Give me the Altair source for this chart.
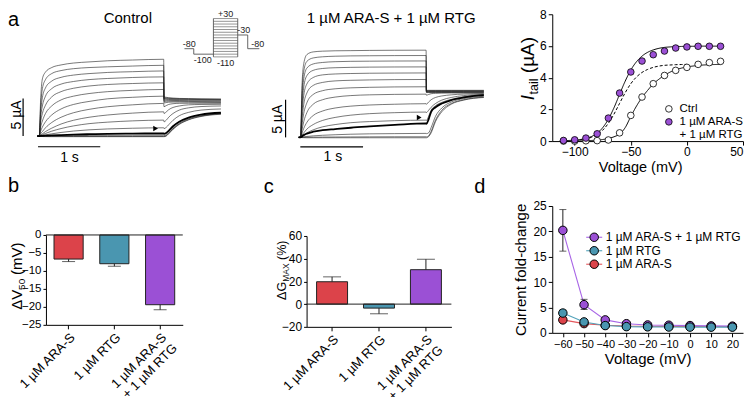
import altair as alt
import pandas as pd

FONT = "Liberation Sans"
PURPLE = "#9b50d5"
RED = "#dc434a"
TEAL = "#4a96b0"
LINE_PURPLE = "#a865e6"
LINE_TEAL = "#52a2ba"
LINE_RED = "#e4565b"
INK = "#1e1e1e"

# ---------------- panel a : current traces (time s, current uA) ----------------
pulse_t = [0.0, 0.02, 0.05, 0.1, 0.2, 0.35, 0.55, 0.8, 1.1, 1.5, 2.0]
tail_t = [2.005, 2.04, 2.08, 2.15, 2.25, 2.4, 2.6, 2.92]

ctrl_pulse = [
    [0, 4.5, 7.6, 8.5, 9.1, 9.45, 9.7, 9.85, 10.0, 10.1, 10.2],
    [0, 3.6, 6.3, 7.5, 8.3, 8.7, 8.95, 9.1, 9.2, 9.3, 9.4],
    [0, 2.9, 5.1, 6.4, 7.3, 7.8, 8.1, 8.3, 8.45, 8.55, 8.65],
    [0, 2.3, 4.0, 5.3, 6.3, 6.9, 7.25, 7.5, 7.65, 7.78, 7.86],
    [0, 1.7, 3.0, 4.1, 5.2, 5.9, 6.35, 6.65, 6.85, 6.98, 7.07],
    [0, 1.1, 2.0, 3.0, 4.0, 4.8, 5.3, 5.65, 5.9, 6.07, 6.19],
    [0, 0.6, 1.2, 1.9, 2.8, 3.6, 4.2, 4.6, 4.95, 5.15, 5.3],
    [0, 0.3, 0.6, 1.1, 1.8, 2.5, 3.1, 3.55, 3.9, 4.15, 4.34],
    [0, 0.15, 0.3, 0.6, 1.05, 1.6, 2.1, 2.5, 2.8, 3.05, 3.22],
    [0, 0.08, 0.18, 0.35, 0.65, 1.0, 1.35, 1.65, 1.85, 2.02, 2.12],
    [0, 0.04, 0.08, 0.16, 0.3, 0.48, 0.67, 0.83, 0.95, 1.04, 1.1],
    [0, 0.02, 0.03, 0.05, 0.09, 0.14, 0.2, 0.25, 0.3, 0.33, 0.36],
    [0, 0.0, 0.01, 0.02, 0.03, 0.05, 0.06, 0.08, 0.09, 0.1, 0.1],
    [0, -0.02, -0.03, -0.04, -0.04, -0.05, -0.05, -0.05, -0.05, -0.05, -0.05],
    [0, -0.04, -0.06, -0.07, -0.08, -0.08, -0.08, -0.08, -0.08, -0.08, -0.08],
]
ctrl_tail = [
    [5.2, 5.15, 5.1, 5.05, 5.0, 4.98, 4.95, 4.92],
    [5.1, 5.06, 5.02, 4.98, 4.95, 4.93, 4.9, 4.88],
    [5.0, 4.97, 4.95, 4.92, 4.9, 4.88, 4.85, 4.83],
    [4.9, 4.88, 4.86, 4.84, 4.82, 4.8, 4.78, 4.76],
    [4.75, 4.75, 4.74, 4.73, 4.72, 4.7, 4.68, 4.66],
    [4.6, 4.62, 4.63, 4.63, 4.62, 4.6, 4.58, 4.56],
    [4.4, 4.45, 4.5, 4.52, 4.52, 4.5, 4.48, 4.46],
    [3.9, 4.05, 4.2, 4.3, 4.35, 4.36, 4.36, 4.35],
    [3.0, 3.2, 3.5, 3.8, 4.0, 4.15, 4.2, 4.22],
    [1.9, 2.1, 2.5, 3.0, 3.45, 3.75, 3.92, 4.0],
    [1.0, 1.15, 1.5, 2.1, 2.7, 3.15, 3.45, 3.6],
    [0.3, 0.4, 0.7, 1.3, 1.9, 2.45, 2.85, 3.1],
    [0.05, 0.15, 0.45, 1.05, 1.7, 2.3, 2.7, 3.0],
    [-0.05, 0.05, 0.35, 0.95, 1.6, 2.2, 2.65, 2.95],
    [-0.08, 0.0, 0.3, 0.9, 1.55, 2.15, 2.6, 2.9],
]
ctrl_thick = 11

ara_pulse = [
    [0, 6.5, 9.8, 11.0, 11.35, 11.45, 11.5, 11.52, 11.55, 11.57, 11.58],
    [0, 5.5, 8.8, 10.1, 10.55, 10.7, 10.78, 10.82, 10.84, 10.86, 10.87],
    [0, 4.6, 7.8, 9.2, 9.75, 9.95, 10.05, 10.1, 10.12, 10.14, 10.15],
    [0, 3.8, 6.7, 8.2, 8.9, 9.15, 9.25, 9.3, 9.33, 9.35, 9.36],
    [0, 3.0, 5.6, 7.1, 7.95, 8.3, 8.42, 8.48, 8.52, 8.54, 8.56],
    [0, 2.2, 4.4, 5.9, 6.9, 7.3, 7.5, 7.58, 7.63, 7.67, 7.69],
    [0, 1.5, 3.2, 4.6, 5.7, 6.2, 6.45, 6.58, 6.65, 6.7, 6.72],
    [0, 0.9, 2.1, 3.3, 4.4, 5.0, 5.35, 5.55, 5.65, 5.71, 5.74],
    [0, 0.5, 1.2, 2.0, 2.9, 3.5, 3.9, 4.15, 4.3, 4.4, 4.47],
    [0, 0.3, 0.6, 1.1, 1.7, 2.25, 2.65, 2.95, 3.15, 3.28, 3.36],
    [0, 0.15, 0.35, 0.6, 1.0, 1.4, 1.7, 1.95, 2.1, 2.22, 2.29],
    [0, 0.12, 0.3, 0.5, 0.75, 0.95, 1.1, 1.28, 1.45, 1.65, 1.86],
    [0, 0.03, 0.07, 0.12, 0.2, 0.28, 0.35, 0.42, 0.47, 0.5, 0.53],
    [0, 0.0, 0.01, 0.02, 0.03, 0.04, 0.05, 0.06, 0.07, 0.08, 0.08],
    [0, -0.03, -0.04, -0.05, -0.05, -0.05, -0.05, -0.05, -0.05, -0.05, -0.05],
]
ara_tail = [
    [6.25, 6.25, 6.25, 6.25, 6.25, 6.25, 6.25, 6.25],
    [6.2, 6.2, 6.2, 6.2, 6.2, 6.2, 6.2, 6.2],
    [6.15, 6.15, 6.15, 6.15, 6.15, 6.15, 6.15, 6.15],
    [6.1, 6.1, 6.1, 6.1, 6.1, 6.1, 6.1, 6.1],
    [6.05, 6.05, 6.05, 6.05, 6.05, 6.05, 6.05, 6.05],
    [6.0, 6.0, 6.0, 6.0, 6.0, 6.0, 6.0, 6.0],
    [5.95, 5.95, 5.95, 5.95, 5.95, 5.95, 5.94, 5.93],
    [5.6, 5.7, 5.8, 5.85, 5.88, 5.9, 5.9, 5.9],
    [4.4, 4.7, 5.0, 5.3, 5.5, 5.65, 5.75, 5.8],
    [3.3, 3.6, 4.0, 4.5, 4.95, 5.3, 5.55, 5.7],
    [2.25, 2.8, 3.6, 4.2, 4.65, 5.05, 5.38, 5.62],
    [1.8, 2.4, 3.4, 4.0, 4.5, 4.95, 5.3, 5.6],
    [0.5, 0.6, 1.3, 2.8, 3.9, 4.7, 5.15, 5.45],
    [0.07, 0.2, 0.8, 2.3, 3.6, 4.5, 5.0, 5.35],
    [-0.05, 0.1, 0.6, 2.1, 3.4, 4.4, 4.95, 5.3],
]
ara_thick = 11

scale_bar_current = 5      # uA
scale_bar_time = 1         # s

# voltage protocol inset (schematic)
prot_t0 = [0.0, 0.4, 0.4, 1.245, 2.29, 2.29, 2.72, 2.72]
prot_v0 = [-80, -80, -100, -110, -110, -30, -30, -80]
prot_t1 = [0.4, 0.4, 1.245, 1.245, 2.29, 2.72, 2.72, 3.22]
prot_v1 = [-80, -100, -100, 30, 30, -30, -80, -80]
prot_levels = [-110, -100, -90, -80, -70, -60, -50, -40, -30, -20, -10, 0, 10, 20, 30]
prot_box = [1.245, 2.29]
prot_up_text = ["-80", "+30", "-30", "-80"]
prot_up_t = [0.21, 1.77, 2.55, 3.15]
prot_up_v = [-80, 30, -30, -80]
prot_dn_text = ["-100", "-110"]
prot_dn_t = [0.79, 1.77]
prot_dn_v = [-100, -110]

# ---------------- panel a : I-V (tail current) ----------------
iv_v = [-110, -100, -90, -80, -70, -60, -50, -40, -30, -20, -10, 0, 10, 20, 30]
iv_ctrl = [0.0, 0.0, 0.02, 0.03, 0.07, 0.52, 1.62, 2.78, 3.62, 4.14, 4.46, 4.65, 4.84, 4.95, 5.03]
iv_both = [0.04, 0.08, 0.19, 0.46, 1.45, 3.03, 4.36, 5.05, 5.45, 5.68, 5.87, 5.94, 5.98, 5.98, 5.98]
fit_v = [-110, -105, -100, -95, -90, -85, -80, -75, -70, -65, -60, -55, -50, -45, -40,
         -35, -30, -25, -20, -15, -10, -5, 0, 5, 10, 15, 20, 25, 30]
fit_both = [0.02, 0.04, 0.06, 0.10, 0.17, 0.29, 0.50, 0.85, 1.38, 2.10, 2.95, 3.78, 4.48, 5.00, 5.36,
            5.60, 5.75, 5.85, 5.91, 5.94, 5.96, 5.97, 5.98, 5.98, 5.99, 5.99, 5.99, 5.99, 5.99]
fit_ctrl = [0.0, 0.0, 0.01, 0.01, 0.02, 0.04, 0.06, 0.10, 0.17, 0.27, 0.45, 0.85, 1.55, 2.20, 2.75,
            3.20, 3.60, 3.90, 4.15, 4.35, 4.50, 4.60, 4.68, 4.73, 4.77, 4.80, 4.82, 4.83, 4.84]
dash_v = [-100, -95, -90, -85, -80, -75, -70, -65, -60, -55, -50, -45, -40, -35, -30, -25, -20, -15, -10, -5, 0]
fit_dash = [0.05, 0.08, 0.14, 0.24, 0.40, 0.69, 1.12, 1.70, 2.38, 3.05, 3.62, 4.04, 4.33, 4.52, 4.65,
            4.73, 4.78, 4.80, 4.82, 4.83, 4.84]
iv_conditions = ["Ctrl", "1 µM ARA-S + 1 µM RTG"]

# ---------------- panels b, c ----------------
cats = ["1 µM ARA-S", "1 µM RTG", "1 µM ARA-S + 1 µM RTG"]
dv50 = [-6.7, -8.0, -19.4]
dv50_err = [-7.4, -8.7, -20.8]
dgmax = [19.7, -3.5, 30.3]
dgmax_err = [24.0, -8.5, 39.5]

# ---------------- panel d ----------------
d_series = ["1 µM ARA-S + 1 µM RTG", "1 µM RTG", "1 µM ARA-S"]
volt_d = [-60, -50, -40, -30, -20, -10, 0, 10, 20]
fold_both = [20.2, 5.55, 2.55, 1.8, 1.55, 1.5, 1.43, 1.37, 1.32]
fold_both_lo = [16.1, 4.6, 2.3, 1.65, 1.45, 1.4, 1.33, 1.28, 1.22]
fold_both_hi = [24.3, 6.6, 2.8, 1.95, 1.65, 1.6, 1.53, 1.46, 1.42]
fold_rtg = [3.9, 2.15, 1.43, 1.22, 1.18, 1.15, 1.13, 1.12, 1.12]
fold_rtg_lo = [3.3, 1.9, 1.3, 1.12, 1.08, 1.05, 1.03, 1.02, 1.02]
fold_rtg_hi = [4.5, 2.4, 1.56, 1.32, 1.28, 1.25, 1.23, 1.22, 1.22]
fold_ara = [2.55, 1.82, 1.5, 1.35, 1.3, 1.27, 1.25, 1.24, 1.22]
fold_ara_lo = [2.2, 1.6, 1.38, 1.25, 1.2, 1.17, 1.15, 1.14, 1.12]
fold_ara_hi = [2.9, 2.05, 1.62, 1.45, 1.4, 1.37, 1.35, 1.34, 1.32]


# ============================ helpers ============================
def text_layer(s, x, y, size, angle=0, align="left", baseline="alphabetic", style="normal", color="black"):
    return alt.Chart(pd.DataFrame({"s": [s]})).mark_text(
        align=align, baseline=baseline, angle=angle, fontSize=size, fontStyle=style,
        color=color, font=FONT
    ).encode(text="s:N", x=alt.value(x), y=alt.value(y))


def traces_frame(pulse, tail):
    rows = []
    for k in range(len(pulse)):
        rows.append({"trace": k, "t": -0.03, "i": 0.0})
        for t, v in zip(pulse_t, pulse[k]):
            rows.append({"trace": k, "t": t, "i": v})
        for t, v in zip(tail_t, tail[k]):
            rows.append({"trace": k, "t": t, "i": v})
    return pd.DataFrame(rows)


def trace_panel(pulse, tail, thick, xr, yr, vbar_t, hbar_t0, hbar_i, lab5, lab1, arrow, title, title_x, protocol):
    xs = alt.Scale(domain=[-0.4, 3.0], range=xr)
    ys = alt.Scale(domain=[-3, 12], range=yr)
    df = traces_frame(pulse, tail)
    X = alt.X("t:Q", scale=xs, axis=None)
    Y = alt.Y("i:Q", scale=ys, axis=None)
    thin = alt.Chart(df[df.trace != thick]).mark_line(
        interpolate="monotone", color=INK, strokeWidth=0.6).encode(x=X, y=Y, detail="trace:N", order="t:Q")
    thk = alt.Chart(df[df.trace == thick]).mark_line(
        interpolate="monotone", color="black", strokeWidth=1.8).encode(x=X, y=Y, order="t:Q")
    bars_df = pd.DataFrame({
        "t0": [vbar_t, hbar_t0], "t1": [vbar_t, hbar_t0 + scale_bar_time],
        "i0": [0, hbar_i], "i1": [scale_bar_current, hbar_i]})
    bars = alt.Chart(bars_df).mark_rule(color="black", strokeWidth=1.2).encode(
        x=alt.X("t0:Q", scale=xs, axis=None), x2="t1:Q",
        y=alt.Y("i0:Q", scale=ys, axis=None), y2="i1:Q")
    l5 = alt.Chart(pd.DataFrame({"t": [lab5[0]], "i": [lab5[1]], "s": ["5 µA"]})).mark_text(
        angle=270, fontSize=14, baseline="middle", align="center", font=FONT, color="black").encode(
        x=alt.X("t:Q", scale=xs, axis=None), y=alt.Y("i:Q", scale=ys, axis=None), text="s:N")
    l1 = alt.Chart(pd.DataFrame({"t": [lab1[0]], "i": [lab1[1]], "s": ["1 s"]})).mark_text(
        fontSize=14, baseline="middle", align="center", font=FONT, color="black").encode(
        x=alt.X("t:Q", scale=xs, axis=None), y=alt.Y("i:Q", scale=ys, axis=None), text="s:N")
    arr = alt.Chart(pd.DataFrame({"t": [arrow[0]], "i": [arrow[1]]})).mark_point(
        shape="triangle-right", filled=True, size=30, color="black", opacity=1).encode(
        x=alt.X("t:Q", scale=xs, axis=None), y=alt.Y("i:Q", scale=ys, axis=None))
    layers = [thin, thk, bars, l5, l1, arr,
              text_layer(title, title_x, 4, 15, align="center", baseline="middle")]
    if protocol:
        pxs = alt.Scale(domain=[0, 3.22], range=[138.7, 213.7])
        pys = alt.Scale(domain=[-110, 30], range=[42.7, 4.3])
        seg = pd.DataFrame({"t0": prot_t0, "t1": prot_t1, "v0": prot_v0, "v1": prot_v1})
        lev = pd.DataFrame({"v": prot_levels, "t0": [prot_box[0]] * len(prot_levels),
                            "t1": [prot_box[1]] * len(prot_levels)})
        layers.append(alt.Chart(lev).mark_rule(color="#666", strokeWidth=0.7).encode(
            x=alt.X("t0:Q", scale=pxs, axis=None), x2="t1:Q", y=alt.Y("v:Q", scale=pys, axis=None)))
        layers.append(alt.Chart(seg).mark_rule(color="#555", strokeWidth=0.9).encode(
            x=alt.X("t0:Q", scale=pxs, axis=None), x2="t1:Q",
            y=alt.Y("v0:Q", scale=pys, axis=None), y2="v1:Q"))
        up = pd.DataFrame({"t": prot_up_t, "v": prot_up_v, "s": prot_up_text})
        dn = pd.DataFrame({"t": prot_dn_t, "v": prot_dn_v, "s": prot_dn_text})
        layers.append(alt.Chart(up).mark_text(fontSize=9, dy=-4.5, baseline="middle", align="center",
                                              font=FONT, color="#222").encode(
            x=alt.X("t:Q", scale=pxs, axis=None), y=alt.Y("v:Q", scale=pys, axis=None), text="s:N"))
        layers.append(alt.Chart(dn).mark_text(fontSize=9, dy=6, baseline="middle", align="center",
                                              font=FONT, color="#222").encode(
            x=alt.X("t:Q", scale=pxs, axis=None), y=alt.Y("v:Q", scale=pys, axis=None), text="s:N"))
        layers.append(text_layer("a", -38, 12, 20))
    return layers


# ============================ row 1 ============================
ctrl_layers = trace_panel(ctrl_pulse, ctrl_tail, ctrl_thick,
                          xr=[-31.6, 180.2], yr=[144.6, 31.5],
                          vbar_t=-0.26, hbar_t0=-0.02, hbar_i=-1.42,
                          lab5=(-0.35, 2.8), lab1=(0.485, -2.96), arrow=(1.87, 1.02),
                          title="Control", title_x=82, protocol=True)
ctrl_panel = alt.layer(*ctrl_layers).resolve_scale(x="independent", y="independent").properties(
    width=261, height=127)

ara_layers = trace_panel(ara_pulse, ara_tail, ara_thick,
                         xr=[-31.1, 182.5], yr=[145.9, 32.8],
                         vbar_t=-0.24, hbar_t0=-0.005, hbar_i=-1.25,
                         lab5=(-0.353, 2.4), lab1=(0.513, -2.57), arrow=(1.89, 2.65),
                         title="1 µM ARA-S + 1 µM RTG", title_x=84.7, protocol=False)
ara_panel = alt.layer(*ara_layers).resolve_scale(x="independent", y="independent").properties(
    width=246, height=127)

# I-V
iv_xs = alt.Scale(domain=[-120, 50], nice=False)
iv_ys = alt.Scale(domain=[0, 8], nice=False)
iv_xax = alt.Axis(values=[-100, -50, 0, 50], title="Voltage (mV)", titleFontSize=14.5, titleX=88,
                  titlePadding=3, labelFontSize=12, tickSize=4, labelPadding=1, labelOverlap=False,
                  tickCount=40, format="d")
iv_yax = alt.Axis(values=[0, 2, 4, 6, 8], title=None, labelFontSize=12, tickSize=4, labelPadding=2,
                  labelOverlap=False, tickCount=40, format="d")
fits = pd.concat([
    pd.DataFrame({"v": fit_v, "val": fit_ctrl, "curve": "ctrl"}),
    pd.DataFrame({"v": fit_v, "val": fit_both, "curve": "both"}),
    pd.DataFrame({"v": dash_v, "val": fit_dash, "curve": "dash"}),
])
iv_pts = pd.concat([
    pd.DataFrame({"v": iv_v, "val": iv_ctrl, "cond": iv_conditions[0]}),
    pd.DataFrame({"v": iv_v, "val": iv_both, "cond": iv_conditions[1]}),
])
iv_lines = alt.Chart(fits).mark_line(color="black", strokeWidth=1, interpolate="monotone").encode(
    x=alt.X("v:Q", scale=iv_xs, axis=iv_xax), y=alt.Y("val:Q", scale=iv_ys, axis=iv_yax),
    detail="curve:N",
    strokeDash=alt.StrokeDash("curve:N", scale=alt.Scale(domain=["ctrl", "both", "dash"],
                                                         range=[[1, 0], [1, 0], [3, 2]]), legend=None))
iv_points = alt.Chart(iv_pts).mark_point(filled=True, size=44, stroke="black", strokeWidth=0.8, opacity=1).encode(
    x="v:Q", y="val:Q",
    fill=alt.Fill("cond:N", scale=alt.Scale(domain=iv_conditions, range=["white", PURPLE]),
                  legend=alt.Legend(orient="none", legendX=111, legendY=89, title=None,
                                    symbolType="circle", symbolSize=44, symbolStrokeColor="black",
                                    symbolStrokeWidth=0.8, labelFontSize=11.5, labelOffset=5,
                                    rowPadding=0,
                                    labelExpr="datum.label == 'Ctrl' ? 'Ctrl' : ['1 µM ARA-S', '+ 1 µM RTG']")))
iv_panel = alt.layer(
    iv_lines, iv_points,
    text_layer("I", -18, 86, 19, angle=270, style="italic"),
    text_layer("tail", -14, 80.3, 12.5, angle=270),
    text_layer("(µA)", -18, 59, 19, angle=270),
).properties(width=191, height=127)

# ============================ row 2 ============================
def bar_panel(vals, errs, ydom, yvals, yrange, xrange, pin, pout, cap, lab_size):
    df = pd.DataFrame({"cat": cats, "val": vals, "err": errs})
    xs = alt.Scale(domain=cats, range=xrange, paddingInner=pin, paddingOuter=pout)
    X = alt.X("cat:N", sort=cats, scale=xs, axis=alt.Axis(
        title=None, labelAngle=315, labelAlign="right", labelBaseline="top", labelFontSize=13,
        tickSize=4, labelPadding=2, labelOverlap=False,
        labelExpr="datum.label == '1 µM ARA-S + 1 µM RTG' ? ['1 µM ARA-S', '+ 1 µM RTG'] : datum.label"))
    Y = alt.Y("val:Q", scale=alt.Scale(domain=ydom, range=yrange, nice=False),
              axis=alt.Axis(values=yvals, title=None, labelFontSize=lab_size, tickSize=3, labelPadding=2,
                            labelOverlap=False, tickCount=40, format="d"))
    bars = alt.Chart(df).mark_bar(stroke="#222", strokeWidth=1).encode(
        x=X, y=Y, color=alt.Color("cat:N", scale=alt.Scale(domain=cats, range=[RED, TEAL, PURPLE]), legend=None))
    err = alt.Chart(df).mark_rule(color="#222", strokeWidth=1).encode(x="cat:N", y="val:Q", y2="err:Q")
    caps = alt.Chart(df).mark_tick(color="#222", thickness=1, size=cap, orient="horizontal").encode(
        x="cat:N", y="err:Q")
    zero = alt.Chart(pd.DataFrame({"z": [0]})).mark_rule(color="#222", strokeWidth=1).encode(
        y="z:Q", x=alt.value(xrange[0]), x2=alt.value(xrange[1]))
    return [bars, err, caps, zero]


b_layers = bar_panel(dv50, dv50_err, [-25, 0], [0, -5, -10, -15, -20, -25], [184, 94], [0, 137],
                     0.363, 0.176, 13, 11.5)
b_panel = alt.layer(
    *b_layers,
    text_layer("ΔV", -24, 169, 15, angle=270),
    text_layer("50", -20.5, 149, 10, angle=270),
    text_layer("(mV)", -24, 134, 15, angle=270),
    text_layer("b", -38, 51, 20),
).properties(width=261, height=184)

c_layers = bar_panel(dgmax, dgmax_err, [-20, 60], [-20, 0, 20, 40, 60], [186, 95], [0, 145],
                     0.34, 0.213, 18, 12)
c_panel = alt.layer(
    *c_layers,
    text_layer("ΔG", -21, 159, 12.5, angle=270),
    text_layer("MAX", -18, 140.9, 8.5, angle=270),
    text_layer("(%)", -21, 119, 12.5, angle=270),
    text_layer("c", -43, 52, 20),
).properties(width=246, height=186)

# panel d
d_rows = []
for name, vals, lo, hi in [(d_series[2], fold_ara, fold_ara_lo, fold_ara_hi),
                           (d_series[0], fold_both, fold_both_lo, fold_both_hi),
                           (d_series[1], fold_rtg, fold_rtg_lo, fold_rtg_hi)]:
    for v, a, l, h in zip(volt_d, vals, lo, hi):
        d_rows.append({"series": name, "line": name, "v": v, "val": a, "lo": l, "hi": h})
ddf = pd.DataFrame(d_rows)
d_xs = alt.Scale(domain=[-65, 25], nice=False)
d_ys = alt.Scale(domain=[0, 25], range=[192, 65], nice=False)
d_fill_scale = alt.Scale(domain=d_series, range=[PURPLE, TEAL, RED])
d_line_scale = alt.Scale(domain=d_series, range=[LINE_PURPLE, LINE_TEAL, LINE_RED])
d_x = alt.X("v:Q", scale=d_xs, axis=alt.Axis(values=volt_d, title="Voltage (mV)", titleFontSize=15,
                                             labelFontSize=11, tickSize=4, labelPadding=2, titlePadding=2,
                                             labelOverlap=False, tickCount=40, format="d"))
d_y = alt.Y("val:Q", scale=d_ys, axis=alt.Axis(values=[0, 5, 10, 15, 20, 25], title="Current fold-change",
                                               titleFontSize=15, titlePadding=4, labelFontSize=12,
                                               tickSize=4, labelPadding=2, labelOverlap=False, tickCount=40,
                                               format="d"))
d_lines = alt.Chart(ddf).mark_line(strokeWidth=1.1).encode(
    x=d_x, y=d_y, detail="line:N",
    stroke=alt.Stroke("line:N", scale=d_line_scale, legend=None))
d_err = alt.Chart(ddf).mark_rule(color="#222", strokeWidth=1).encode(x="v:Q", y="lo:Q", y2="hi:Q")
d_cap_lo = alt.Chart(ddf).mark_tick(color="#222", thickness=1, size=7, orient="horizontal").encode(x="v:Q", y="lo:Q")
d_cap_hi = alt.Chart(ddf).mark_tick(color="#222", thickness=1, size=7, orient="horizontal").encode(x="v:Q", y="hi:Q")
d_pts = alt.Chart(ddf).mark_point(filled=True, size=72, stroke="black", strokeWidth=1, opacity=1).encode(
    x="v:Q", y="val:Q", fill=alt.Fill("series:N", scale=d_fill_scale, legend=None))

# key for panel d (rows use the same colour scales as the data marks)
key_y = [96.3, 109.8, 123.3]
key_layers = []
for k, name in enumerate(d_series):
    kdf = pd.DataFrame({"series": [name], "line": [name]})
    key_layers.append(alt.Chart(kdf).mark_rule(strokeWidth=1.1).encode(
        x=alt.value(34), x2=alt.value(50), y=alt.value(key_y[k]),
        stroke=alt.Stroke("line:N", scale=d_line_scale, legend=None)))
    key_layers.append(alt.Chart(kdf).mark_point(filled=True, size=72, stroke="black", strokeWidth=1,
                                                opacity=1).encode(
        x=alt.value(42), y=alt.value(key_y[k]), fill=alt.Fill("series:N", scale=d_fill_scale, legend=None)))
    key_layers.append(alt.Chart(kdf).mark_text(align="left", baseline="middle", fontSize=12, font=FONT,
                                               color="black").encode(
        x=alt.value(53.5), y=alt.value(key_y[k]), text="series:N"))

d_panel = alt.layer(d_lines, d_err, d_cap_lo, d_cap_hi, d_pts, *key_layers,
                    text_layer("d", -78, 52, 20)).properties(width=191, height=192)

chart = alt.concat(ctrl_panel, ara_panel, iv_panel, b_panel, c_panel, d_panel,
                   columns=3, spacing=0, bounds="flush", align="each",
                   padding={"left": 0, "top": 0, "right": 0, "bottom": 4}).resolve_scale(
    fill="independent", color="independent", stroke="independent", strokeDash="independent").resolve_legend(
    fill="independent").configure(
    font=FONT).configure_view(stroke=None).configure_axis(
    grid=False, domainColor="black", tickColor="black", labelColor="black", titleColor="black",
    domainWidth=1, tickWidth=1, titleFontWeight="normal", labelFont=FONT, titleFont=FONT,
    labelOverlap=False)

chart.save("out.html", embed_options={"renderer": "svg", "actions": False})
